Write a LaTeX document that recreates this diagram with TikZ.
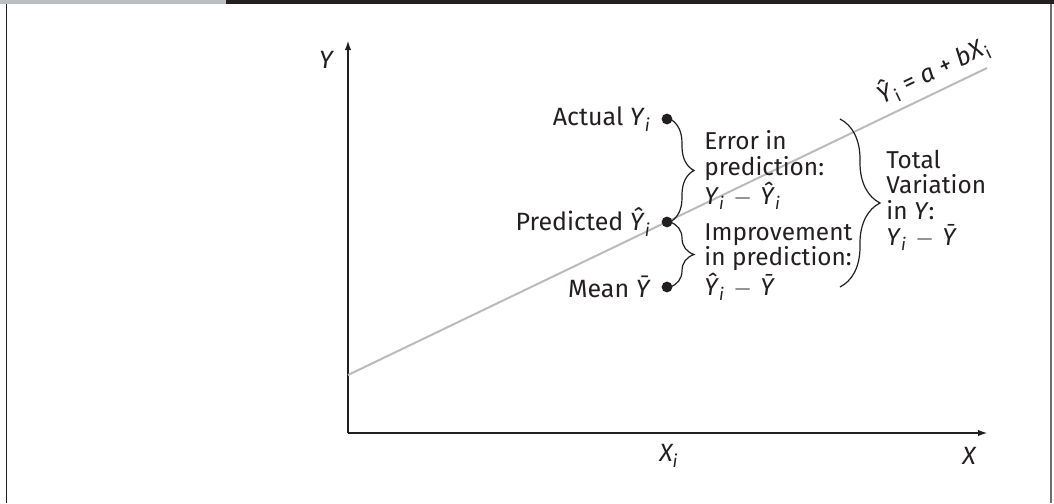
\documentclass[tikz,border=0pt]{standalone}
\usepackage{fontspec}
\setmainfont{Fira Sans}
\usetikzlibrary{
  arrows.meta,
  decorations.pathreplacing,
  positioning
}
\definecolor{ink}{HTML}{231F20}
\definecolor{tabgray}{HTML}{BCBEC0}
\definecolor{framegray}{HTML}{6D6E71}
\definecolor{reggray}{HTML}{B9BBBD}
\newcommand{\Yi}{\textit{Y}\textsubscript{\textit{i}}}
\newcommand{\Yhati}{\textit{Ŷ}\textsubscript{\textit{i}}}
\newcommand{\Ybar}{\textit{Ȳ}}
\newcommand{\mns}{\kern1pt$-$\kern1pt}
\tikzset{
  axis/.style={
    draw=ink,
    line width=1pt,
    -{Latex[length=5pt,width=3.2pt]}
  },
  regline/.style={draw=reggray, line width=1pt},
  dot/.style={
    circle,
    fill=ink,
    minimum size=5.4pt,
    inner sep=0pt
  },
  brace/.style={
    decorate,
    decoration={brace, amplitude=12pt, aspect=0.5},
    draw=ink,
    line width=0.6pt
  },
  axis label/.style={font=\fontsize{12.5}{13}\selectfont\itshape, text=ink, inner sep=0pt},
  point label/.style={font=\fontsize{12.5}{13}\selectfont, text=ink, inner sep=0pt, anchor=east},
  note/.style={
    font=\fontsize{12.2}{12.8}\selectfont,
    text=ink,
    align=left,
    inner sep=0pt,
    anchor=west
  },
  eqn/.style={font=\fontsize{12.5}{13}\selectfont, text=ink, inner sep=0pt}
}

\begin{document}
\begin{tikzpicture}[x=0.5pt,y=-0.5pt]
  \useasboundingbox (0,0) rectangle (1054,503);

  % Header strip and frame
  \fill[tabgray] (0,0) rectangle (226,4);
  \fill[ink] (226,0) rectangle (1054,4);
  \draw[ink, line width=0.75pt] (6.5,4) -- (6.5,503);
  \draw[framegray, line width=1pt] (1050.5,4) -- (1050.5,503);

  % Axes
  \coordinate (origin) at (348,433);
  \coordinate (ytop) at (348,40);
  \coordinate (xend) at (988,433);
  \draw[axis] (origin) -- (ytop);
  \draw[axis] (origin) -- (xend);
  \node[axis label] (ylab) at (326,60) {Y};
  \node[axis label] (xlab) at (969,456) {X};
  \node[axis label] (xilab) at (669,456) {X\textsubscript{i}};

  % Regression line
  \coordinate (regstart) at (348,375);
  \coordinate (regend) at (987,68);
  \draw[regline] (regstart) -- node[eqn, pos=0.93, sloped, above=3pt] {%
    \textit{Ŷ}\textsubscript{i}~=~\textit{a}~+~\textit{bX}\textsubscript{i}%
  } (regend);

  % Observed, predicted and mean values at X_i
  \node[dot] (actual) at (667,119) {};
  \node[dot] (predicted) at (667,222) {};
  \node[dot] (mean) at (667,287) {};
  \node[point label, left=5pt of actual] (actuallab) {Actual \Yi};
  \node[point label, left=5pt of predicted] (predictedlab) {Predicted \Yhati};
  \node[point label, left=5pt of mean] (meanlab) {Mean \Ybar};

  % Braces
  \coordinate (totalx) at (840,0);
  \draw[brace] ([xshift=1.5pt]actual.center) -- ([xshift=1.5pt]predicted.center);
  \draw[brace] ([xshift=1.5pt]predicted.center) -- ([xshift=1.5pt]mean.center);
  \draw[brace, decoration={amplitude=20pt}] (actual -| totalx) -- (mean -| totalx);

  % Brace labels
  \node[note] (errortxt) at (704,170) {Error in\\prediction:\\\Yi{} \mns{} \Yhati};
  \node[note] (improvetxt) at (704,262) {Improvement\\in prediction:\\\Yhati{} \mns{} \Ybar};
  \node[note] (totaltxt) at (886,200) {Total\\Variation\\in \textit{Y}:\\\Yi{} \mns{} \Ybar};
\end{tikzpicture}
\end{document}
